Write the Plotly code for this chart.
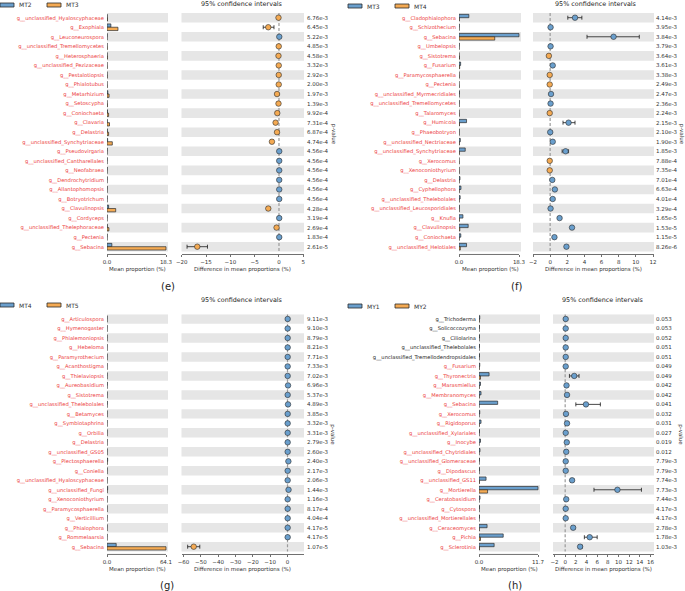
import plotly.graph_objects as go

W, H = 685, 591
def X(px): return px / W
def Y(py): return 1 - py / H

BLUE = "#6a9fcd"; ORANGE = "#f4aa53"; EDGE = "#2b2b2b"; STRIPE = "#e6e6e6"; RED = "#ec3b3b"
FONT = "DejaVu Sans"

# ---------------- panel (e): MT2 vs MT3 ----------------
names_e = ["g__unclassified_Hyaloscyphaceae", "g__Exophiala", "g__Leuconeurospora", "g__unclassified_Tremellomycetes",
           "g__Heterosphaeria", "g__unclassified_Pezizaceae", "g__Pestalotiopsis", "g__Phialotubus", "g__Metarhizium",
           "g__Setoscypha", "g__Coniochaeta", "g__Clavaria", "g__Delastria", "g__unclassified_Synchytriaceae",
           "g__Pseudovirgaria", "g__unclassified_Cantharellales", "g__Neofabraea", "g__Dendrochytridium",
           "g__Allantophomopsis", "g__Botryotrichum", "g__Clavulinopsis", "g__Cordyceps",
           "g__unclassified_Thelephoraceae", "g__Pectenia", "g__Sebacina"]
mean1_e = [0.05, 1.2, 0.06, 0.02, 0.03, 0.0, 0.01, 0.0, 0.25, 0.02, 0.15, 0.08, 0.1, 0.2, 0.05, 0.05, 0.05, 0.05, 0.05, 0.05, 0.5, 0.05, 0.1, 0.05, 1.5]
mean2_e = [0.15, 3.4, 0.0, 0.07, 0.13, 0.05, 0.06, 0.05, 0.65, 0.12, 0.5, 0.78, 0.5, 1.65, 0.0, 0.0, 0.0, 0.0, 0.0, 0.0, 2.7, 0.0, 0.6, 0.0, 18.3]
diff_e = [-0.1, -2.2, 0.06, -0.05, -0.1, -0.05, -0.05, -0.05, -0.4, -0.1, -0.35, -0.7, -0.4, -1.45, 0.05, 0.05, 0.05, 0.05, 0.05, 0.05, -2.2, 0.05, -0.5, 0.05, -16.8]
lo_e = [-0.1, -3.24, 0.06, -0.05, -0.1, -0.05, -0.05, -0.05, -0.45, -0.1, -0.4, -0.8, -0.45, -1.7, 0.05, 0.05, 0.05, 0.05, 0.05, 0.05, -2.5, 0.05, -0.6, 0.05, -18.9]
hi_e = [-0.1, -1.03, 0.06, -0.05, -0.1, -0.05, -0.05, -0.05, -0.35, -0.1, -0.3, -0.6, -0.35, -1.2, 0.05, 0.05, 0.05, 0.05, 0.05, 0.05, -1.9, 0.05, -0.4, 0.05, -14.7]
pval_e = ["6.76e-3", "6.45e-3", "5.22e-3", "4.85e-3", "4.58e-3", "3.32e-3", "2.92e-3", "2.00e-3", "1.97e-3", "1.39e-3",
          "9.92e-4", "7.31e-4", "6.87e-4", "4.74e-4", "4.56e-4", "4.56e-4", "4.56e-4", "4.56e-4", "4.56e-4", "4.56e-4",
          "4.28e-4", "3.19e-4", "2.69e-4", "1.83e-4", "2.61e-5"]

# ---------------- panel (f): MT3 vs MT4 ----------------
names_f = ["g__Cladophialophora", "g__Schizothecium", "g__Sebacina", "g__Umbelopsis", "g__Sistotrema", "g__Fusarium",
           "g__Paramycosphaerella", "g__Pectenia", "g__unclassified_Myrmecridiales", "g__unclassified_Tremellomycetes",
           "g__Talaromyces", "g__Humicola", "g__Phaeobotryon", "g__unclassified_Nectriaceae",
           "g__unclassified_Synchytriaceae", "g__Xerocomus", "g__Xenoconiothyrium", "g__Delastria", "g__Cyphellophora",
           "g__unclassified_Thelebolales", "g__unclassified_Leucosporidiales", "g__Knufia", "g__Clavulinopsis",
           "g__Coniochaeta", "g__unclassified_Helotiales"]
mean1_f = [3.0, 0.08, 18.3, 0.07, 0.0, 0.5, 0.0, 0.0, 0.12, 0.07, 0.0, 2.3, 0.04, 0.4, 1.9, 0.0, 0.0, 0.3, 0.6, 0.35, 0.1, 1.2, 2.8, 0.55, 2.3]
mean2_f = [0.1, 0.03, 10.9, 0.02, 0.15, 0.2, 0.05, 0.05, 0.02, 0.02, 0.05, 0.15, 0.03, 0.1, 0.1, 0.05, 0.05, 0.05, 0.05, 0.05, 0.05, 0.1, 0.25, 0.05, 0.4]
diff_f = [2.9, 0.05, 7.4, 0.05, -0.15, 0.3, -0.05, -0.05, 0.1, 0.05, -0.05, 2.15, 0.01, 0.3, 1.8, -0.05, -0.05, 0.25, 0.55, 0.3, 0.05, 1.1, 2.55, 0.5, 1.9]
lo_f = [2.06, 0.05, 4.3, 0.05, -0.15, 0.2, -0.05, -0.05, 0.1, 0.05, -0.05, 1.5, 0.01, 0.25, 1.4, -0.05, -0.05, 0.25, 0.5, 0.3, 0.05, 1.05, 2.4, 0.45, 1.75]
hi_f = [3.7, 0.05, 10.4, 0.05, -0.15, 0.4, -0.05, -0.05, 0.1, 0.05, -0.05, 2.9, 0.01, 0.35, 2.15, -0.05, -0.05, 0.25, 0.6, 0.3, 0.05, 1.15, 2.7, 0.55, 2.05]
pval_f = ["4.14e-3", "3.95e-3", "3.84e-3", "3.79e-3", "3.64e-3", "3.61e-3", "3.38e-3", "2.49e-3", "2.47e-3", "2.36e-3",
          "2.24e-3", "2.15e-3", "2.10e-3", "1.90e-3", "1.85e-3", "7.88e-4", "7.35e-4", "7.01e-4", "6.63e-4", "4.01e-4",
          "3.29e-4", "1.65e-5", "1.53e-5", "1.15e-5", "8.26e-6"]

# ---------------- panel (g): MT4 vs MT5 ----------------
names_g = ["g__Articulospora", "g__Hymenogaster", "g__Phialemoniopsis", "g__Hebeloma", "g__Paramyrothecium",
           "g__Acanthostigma", "g__Thielaviopsis", "g__Aureobasidium", "g__Sistotrema", "g__unclassified_Thelebolales",
           "g__Betamyces", "g__Symbiotaphrina", "g__Orbilia", "g__Delastria", "g__unclassified_GS05",
           "g__Plectosphaerella", "g__Coniella", "g__unclassified_Hyaloscyphaceae", "g__unclassified_Fungi",
           "g__Xenoconiothyrium", "g__Paramycosphaerella", "g__Verticillium", "g__Phialophora", "g__Rommelaarsia",
           "g__Sebacina"]
mean1_g = [0.1, 0.1, 0.1, 0.1, 0.1, 0.1, 0.1, 0.3, 0.1, 0.3, 0.1, 0.1, 0.1, 0.1, 0.1, 0.7, 0.1, 0.1, 0.7, 0.1, 0.1, 0.1, 0.1, 0.1, 10.0]
mean2_g = [0.0, 0.0, 0.0, 0.0, 0.0, 0.0, 0.0, 0.0, 0.0, 0.0, 0.0, 0.0, 0.0, 0.0, 0.0, 0.2, 0.0, 0.0, 0.1, 0.0, 0.0, 0.0, 0.0, 0.0, 64.1]
diff_g = [0.1, 0.1, 0.1, 0.1, 0.1, 0.1, 0.1, 0.3, 0.1, 0.3, 0.1, 0.1, 0.1, 0.1, 0.1, 0.5, 0.1, 0.1, 0.6, 0.1, 0.1, 0.1, 0.1, 0.1, -54.1]
lo_g = [0.1, 0.1, 0.1, 0.1, 0.1, 0.1, 0.1, 0.3, 0.1, 0.3, 0.1, 0.1, 0.1, 0.1, 0.1, 0.5, 0.1, 0.1, 0.6, 0.1, 0.1, 0.1, 0.1, 0.1, -57.6]
hi_g = [0.1, 0.1, 0.1, 0.1, 0.1, 0.1, 0.1, 0.3, 0.1, 0.3, 0.1, 0.1, 0.1, 0.1, 0.1, 0.5, 0.1, 0.1, 0.6, 0.1, 0.1, 0.1, 0.1, 0.1, -50.6]
pval_g = ["9.11e-3", "9.10e-3", "8.79e-3", "8.21e-3", "7.71e-3", "7.33e-3", "7.02e-3", "6.96e-3", "5.37e-3", "4.89e-3",
          "3.85e-3", "3.32e-3", "3.31e-3", "2.79e-3", "2.60e-3", "2.40e-3", "2.17e-3", "2.06e-3", "1.44e-3", "1.16e-3",
          "8.17e-4", "4.04e-4", "4.17e-5", "4.17e-5", "1.07e-5"]

# ---------------- panel (h): MY1 vs MY2 ----------------
names_h = ["g__Trichoderma", "g__Solicoccozyma", "g__Ciliolarina", "g__unclassified_Thelebolales",
           "g__unclassified_Tremellodendropsidales", "g__Fusarium", "g__Thyronectria", "g__Marasmiellus",
           "g__Membranomyces", "g__Sebacina", "g__Xerocomus", "g__Rigidoporus", "g__unclassified_Xylariales",
           "g__Inocybe", "g__unclassified_Chytridiales", "g__unclassified_Glomeraceae", "g__Dipodascus",
           "g__unclassified_GS11", "g__Mortierella", "g__Ceratobasidium", "g__Cytospora",
           "g__unclassified_Mortierellales", "g__Ceraceomyces", "g__Pichia", "g__Sclerotinia"]
mean1_h = [0.15, 0.1, 0.1, 0.1, 0.1, 0.15, 2.0, 0.3, 0.4, 3.7, 0.15, 0.4, 0.1, 0.3, 0.2, 0.1, 0.1, 1.4, 11.7, 0.2, 0.1, 0.1, 1.6, 4.8, 3.0]
mean2_h = [0.05, 0.0, 0.0, 0.0, 0.0, 0.05, 0.3, 0.05, 0.05, 0.0, 0.0, 0.05, 0.0, 0.0, 0.0, 0.0, 0.0, 0.1, 1.7, 0.0, 0.0, 0.0, 0.05, 0.3, 0.1]
diff_h = [0.1, 0.1, 0.1, 0.1, 0.1, 0.1, 1.7, 0.25, 0.35, 3.9, 0.15, 0.35, 0.1, 0.3, 0.2, 0.1, 0.1, 1.3, 9.8, 0.2, 0.1, 0.1, 1.5, 4.6, 2.8]
lo_h = [0.0, 0.0, 0.0, 0.0, 0.0, 0.0, 0.8, 0.1, 0.15, 2.0, 0.05, 0.15, 0.05, 0.15, 0.1, 0.05, 0.05, 1.0, 5.4, 0.1, 0.05, 0.05, 1.2, 3.6, 2.5]
hi_h = [0.2, 0.2, 0.2, 0.2, 0.2, 0.2, 2.6, 0.4, 0.55, 6.6, 0.25, 0.55, 0.15, 0.45, 0.3, 0.15, 0.15, 1.6, 14.3, 0.3, 0.15, 0.15, 1.8, 6.0, 3.2]
pval_h = ["0.053", "0.053", "0.052", "0.051", "0.051", "0.049", "0.049", "0.042", "0.042", "0.041", "0.032", "0.031",
          "0.027", "0.019", "0.012", "7.79e-3", "7.79e-3", "7.74e-3", "7.73e-3", "7.44e-3", "4.17e-3", "4.17e-3",
          "2.78e-3", "1.78e-3", "1.03e-3"]

fig = go.Figure()
shapes, annotations, layout_axes = [], [], {}


def axname(kind, n):
    return kind if n == 1 else f"{kind}{n}"


def note(text, x, y, size=5.5, color='#333333', xanchor='center', yref='paper', angle=0):
    annotations.append(dict(text=text, xref='paper', x=x, xanchor=xanchor, yref=yref, y=y, yanchor='middle',
                            showarrow=False, textangle=angle, borderpad=0,
                            font=dict(size=size, color=color, family=FONT)))


def add_panel(k, names, m1, m2, diff, lo, hi, pvals, groups, geo):
    n = len(names)
    nb, nc = 2 * k + 1, 2 * k + 2
    xb, yb, xc, yc = axname('x', nb), axname('y', nb), axname('x', nc), axname('y', nc)
    y0, y1 = geo['rows']
    sp = (y1 - y0) / (n - 1)
    top, bot = y0 - sp / 2, y1 + sp / 2 + 3
    yr = [n - 0.5 + 3 / sp, -0.5]
    rows = list(range(n))

    bx0, bx1 = geo['bar_px']
    bmax = geo['bmax']
    brange = [0, bmax * (bx1 - bx0) / (geo['bmax_px'] - bx0)]
    cx0, cx1 = geo['ci_px']
    va, pa, vb, pb = geo['ci_map']
    sc = (pb - pa) / (vb - va)
    crange = [va + (cx0 - pa) / sc, va + (cx1 - pa) / sc]

    # bars
    for vals, col in ((m1, BLUE), (m2, ORANGE)):
        fig.add_trace(go.Bar(x=vals, y=rows, orientation='h', xaxis=xb, yaxis=yb, showlegend=False,
                             marker=dict(color=col, line=dict(color=EDGE, width=0.7)), hoverinfo='skip'))
    # CI dots
    cols = [BLUE if d > 0 else ORANGE for d in diff]
    fig.add_trace(go.Scatter(
        x=diff, y=rows, mode='markers', xaxis=xc, yaxis=yc, showlegend=False, hoverinfo='skip',
        marker=dict(color=cols, size=5.5, line=dict(color=EDGE, width=0.6)),
        error_x=dict(type='data', symmetric=False,
                     array=[h - d for h, d in zip(hi, diff)],
                     arrayminus=[d - l for d, l in zip(diff, lo)],
                     color='#1a1a1a', thickness=0.8, width=2)))

    ticktext = []
    for name, p in zip(names, pvals):
        if float(p) >= 0.05:
            ticktext.append(f'<span style="color:#222222">{name}</span>')
        else:
            ticktext.append(name)

    dom_y = [Y(bot), Y(top)]
    layout_axes[axname('xaxis', nb)] = dict(
        domain=[X(bx0), X(bx1)], anchor=yb, range=brange, tickvals=[0, bmax], automargin=False,
        ticktext=['0.0', f'{bmax:.1f}'], ticks='outside', ticklen=2, tickwidth=0.7, tickcolor='#333',
        showgrid=False, zeroline=False, showline=False, tickfont=dict(size=5.5, color='#333', family=FONT))
    layout_axes[axname('yaxis', nb)] = dict(
        domain=dom_y, anchor=xb, range=yr, tickvals=rows, ticktext=ticktext, ticks='', ticklen=0,
        showgrid=False, zeroline=False, showline=False, ticklabelstandoff=2, automargin=False,
        tickfont=dict(size=5.2, color=RED, family=FONT))
    layout_axes[axname('xaxis', nc)] = dict(
        domain=[X(cx0), X(cx1)], anchor=yc, range=crange, tickvals=geo['ci_ticks'], ticks='outside',
        ticklen=2, tickwidth=0.7, tickcolor='#333', showgrid=False, zeroline=False, showline=True,
        automargin=False, linecolor='#333', linewidth=0.7, tickfont=dict(size=5.5, color='#333', family=FONT))
    layout_axes[axname('yaxis', nc)] = dict(
        domain=dom_y, anchor=xc, range=yr, showticklabels=False, ticks='', showgrid=False,
        zeroline=False, showline=False, automargin=False)

    # stripes
    for i in range(0, n, 2):
        for xr, yrf in ((xb, yb), (xc, yc)):
            shapes.append(dict(type='rect', xref=f'{xr} domain', x0=0, x1=1, yref=yrf, y0=i - 0.5, y1=i + 0.5,
                               fillcolor=STRIPE, line=dict(width=0), layer='below'))
    # bar spine between 0 and max
    shapes.append(dict(type='line', xref=xb, x0=0, x1=bmax, yref=f'{yb} domain', y0=0, y1=0,
                       line=dict(color='#333', width=0.7)))
    # zero line on CI
    shapes.append(dict(type='line', xref=xc, x0=0, x1=0, yref=yc, y0=-0.5, y1=n - 0.5,
                       line=dict(color='#9a9a9a', width=1.2, dash='3px,2px'), layer='below'))

    # p-values
    for i, p in enumerate(pvals):
        note(p, X(geo['pval_x']), i, xanchor='left', yref=yc)
    note('p-value', X(geo['pv_label_x']), Y((top + bot) / 2), angle=90)
    # titles
    note('95% confidence intervals', X(geo['title_x']), Y(geo['title_y']), size=6.4, color='#222222')
    note('Mean proportion (%)', X((bx0 + geo['bmax_px']) / 2 + 1), Y(bot + 15))
    note('Difference in mean proportions (%)', X((cx0 + cx1) / 2), Y(bot + 15))
    note(f'({geo["letter"]})', X(geo['letter_xy'][0]), Y(geo['letter_xy'][1]), size=10, color='#222222')
    # legend
    lx, ly = geo['legend']
    for j, (col, g) in enumerate(((BLUE, groups[0]), (ORANGE, groups[1]))):
        x0 = lx + j * 47
        shapes.append(dict(type='rect', xref='paper', yref='paper', x0=X(x0), x1=X(x0 + 14), y0=Y(ly + 2),
                           y1=Y(ly - 2), fillcolor=col, line=dict(color=EDGE, width=0.8)))
        note(g, X(x0 + 18), Y(ly), size=6, xanchor='left')


add_panel(0, names_e, mean1_e, mean2_e, diff_e, lo_e, hi_e, pval_e, ("MT2", "MT3"),
          dict(rows=(17.7, 246.7), bar_px=(107, 168), bmax=18.3, bmax_px=166, ci_px=(181.5, 304),
               ci_map=(-20, 181.7, 5, 303.3), ci_ticks=[-20, -15, -10, -5, 0, 5], pval_x=306, pv_label_x=333,
               title_x=242, title_y=4, letter='e', letter_xy=(168, 286), legend=(0, 5)))
add_panel(1, names_f, mean1_f, mean2_f, diff_f, lo_f, hi_f, pval_f, ("MT3", "MT4"),
          dict(rows=(17.7, 246.7), bar_px=(459, 521), bmax=18.3, bmax_px=519, ci_px=(533, 654),
               ci_map=(-2, 533, 12, 653), ci_ticks=[-2, 0, 2, 4, 6, 8, 10, 12], pval_x=655, pv_label_x=681,
               title_x=596, title_y=4, letter='f', letter_xy=(516, 286), legend=(348, 6)))
add_panel(2, names_g, mean1_g, mean2_g, diff_g, lo_g, hi_g, pval_g, ("MT4", "MT5"),
          dict(rows=(319, 546.7), bar_px=(107, 168), bmax=64.1, bmax_px=166, ci_px=(181.5, 304),
               ci_map=(-60, 183.5, 0, 287.5), ci_ticks=[-60, -50, -40, -30, -20, -10, 0], pval_x=306,
               pv_label_x=333, title_x=242, title_y=300, letter='g', letter_xy=(167, 585), legend=(0, 305)))
add_panel(3, names_h, mean1_h, mean2_h, diff_h, lo_h, hi_h, pval_h, ("MY1", "MY2"),
          dict(rows=(319, 546.7), bar_px=(479, 540), bmax=11.7, bmax_px=538, ci_px=(553, 654),
               ci_map=(-2, 554.5, 16, 650.5), ci_ticks=[-2, 0, 2, 4, 6, 8, 10, 12, 14, 16], pval_x=655,
               pv_label_x=681, title_x=603, title_y=300, letter='h', letter_xy=(515, 585), legend=(348, 306)))

fig.update_layout(width=W, height=H, margin=dict(l=0, r=0, t=0, b=0, autoexpand=False), paper_bgcolor='white',
                  plot_bgcolor='rgba(0,0,0,0)', barmode='group', bargap=0.3, bargroupgap=0, hovermode=False,
                  shapes=shapes, annotations=annotations, font=dict(family=FONT), **layout_axes)
fig.write_html("out.html", config={'displayModeBar': False, 'staticPlot': True},
               post_script="document.body.style.margin='0px';document.body.style.overflow='hidden';")
